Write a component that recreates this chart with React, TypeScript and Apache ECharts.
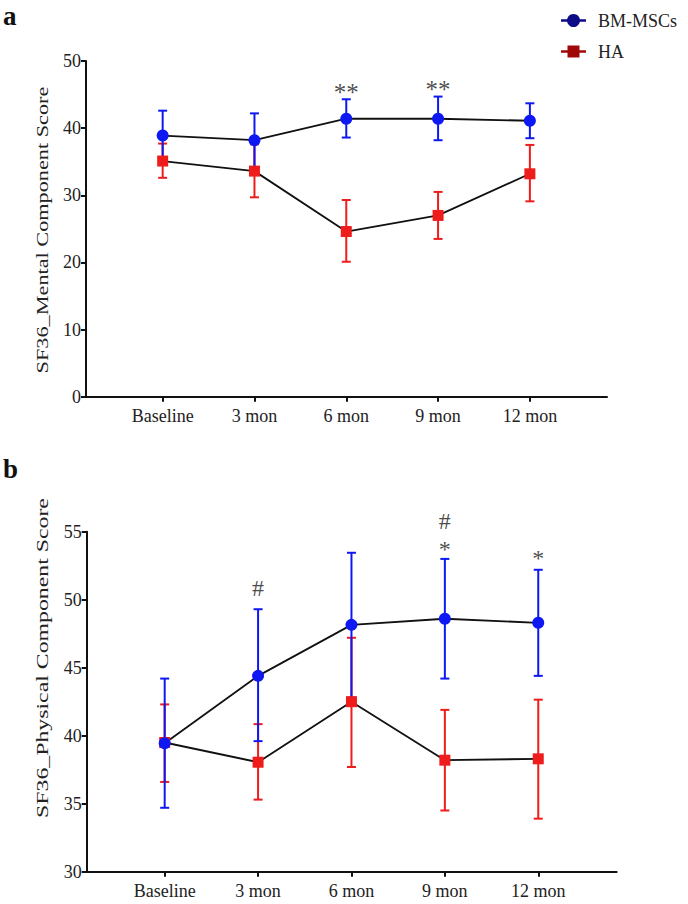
import React, { useEffect, useRef } from "react";
import * as echarts from "echarts";

const categories = ["Baseline", "3 mon", "6 mon", "9 mon", "12 mon"];

// Panel a: SF36 Mental Component Score
const mcsBmMean = [38.9, 38.2, 41.4, 41.4, 41.1];
const mcsBmUpper = [42.6, 42.2, 44.3, 44.7, 43.7];
const mcsBmLower = [35.2, 34.2, 38.6, 38.2, 38.5];
const mcsHaMean = [35.1, 33.6, 24.6, 27.0, 33.2];
const mcsHaUpper = [37.7, 37.6, 29.3, 30.5, 37.5];
const mcsHaLower = [32.6, 29.7, 20.1, 23.5, 29.1];
const mcsAnnotations: [number, number, string][] = [
  [2, 45.25, "**"],
  [3, 45.7, "**"],
];

// Panel b: SF36 Physical Component Score
const pcsBmMean = [39.45, 44.4, 48.15, 48.6, 48.3];
const pcsBmUpper = [44.2, 49.3, 53.45, 53.0, 52.2];
const pcsBmLower = [34.7, 39.6, 42.8, 44.2, 44.4];
const pcsHaMean = [39.5, 38.05, 42.5, 38.2, 38.3];
const pcsHaUpper = [42.3, 40.85, 47.2, 41.9, 42.65];
const pcsHaLower = [36.6, 35.3, 37.7, 34.5, 33.9];
const pcsAnnotations: [number, number, string][] = [
  [1, 50.88, "#"],
  [3, 55.79, "#"],
  [3, 53.7, "*"],
  [4, 53.1, "*"],
];

const FONT = "'Liberation Serif', 'Times New Roman', Times, serif";
const BLUE = "#0d18f2";
const RED = "#ef1c1c";
const TEXT = "#222222";

function errData(mean: number[], lo: number[], hi: number[]) {
  return mean.map((m, i) => [i, m, lo[i], hi[i]]);
}

function errorSeries(idx: number, data: number[][], color: string) {
  return {
    type: "custom",
    xAxisIndex: idx,
    yAxisIndex: idx,
    z: 2,
    silent: true,
    encode: { x: 0, y: [2, 3] },
    data,
    renderItem: (params: any, api: any) => {
      const x = api.value(0);
      const pLo = api.coord([x, api.value(2)]);
      const pHi = api.coord([x, api.value(3)]);
      const w = 4.5;
      const style = { stroke: color, lineWidth: 2 };
      return {
        type: "group",
        children: [
          { type: "line", shape: { x1: pLo[0], y1: pLo[1], x2: pHi[0], y2: pHi[1] }, style },
          { type: "line", shape: { x1: pHi[0] - w, y1: pHi[1], x2: pHi[0] + w, y2: pHi[1] }, style },
          { type: "line", shape: { x1: pLo[0] - w, y1: pLo[1], x2: pLo[0] + w, y2: pLo[1] }, style },
        ],
      };
    },
  };
}

function lineSeries(idx: number, name: string, mean: number[], color: string, symbol: string, size: number) {
  return {
    type: "line",
    name,
    xAxisIndex: idx,
    yAxisIndex: idx,
    z: 4,
    data: mean.map((m, i) => [i, m]),
    symbol,
    symbolSize: size,
    lineStyle: { color: "#111", width: 1.8 },
    itemStyle: { color },
  };
}

function annotSeries(idx: number, data: [number, number, string][], size: number) {
  return {
    type: "scatter",
    xAxisIndex: idx,
    yAxisIndex: idx,
    clip: false,
    silent: true,
    z: 5,
    symbolSize: 0,
    data,
    label: {
      show: true,
      position: "inside",
      formatter: (p: any) => p.data[2],
      fontFamily: FONT,
      fontSize: size,
      color: "#1a1a1a",
    },
  };
}

function xAxis(idx: number) {
  return {
    type: "value",
    gridIndex: idx,
    min: -0.835,
    max: 4.84,
    splitLine: { show: false },
    axisLine: { show: true, onZero: false, lineStyle: { color: "#111", width: 2 } },
    axisTick: { show: true, customValues: [0, 1, 2, 3, 4], length: 5, lineStyle: { color: "#111", width: 2 } },
    axisLabel: {
      customValues: [0, 1, 2, 3, 4],
      formatter: (v: number) => categories[Math.round(v)],
      fontFamily: FONT,
      fontSize: 18,
      color: TEXT,
      margin: 10,
    },
  };
}

function yAxis(idx: number, min: number, max: number, interval: number) {
  return {
    type: "value",
    gridIndex: idx,
    min,
    max,
    interval,
    splitLine: { show: false },
    axisLine: { show: true, onZero: false, lineStyle: { color: "#111", width: 2 } },
    axisTick: { show: true, length: 5, lineStyle: { color: "#111", width: 2 } },
    axisLabel: { fontFamily: FONT, fontSize: 18, color: TEXT, margin: 5 },
  };
}

function yTitle(text: string, x: number, y: number, stretch: number) {
  return {
    type: "text",
    x,
    y,
    rotation: Math.PI / 2,
    scaleX: stretch,
    scaleY: 1,
    style: { text, fontFamily: FONT, fontSize: 17, fill: TEXT, align: "center", verticalAlign: "middle" },
  };
}

export default function App() {
  const ref = useRef<HTMLDivElement>(null);
  useEffect(() => {
    if (!ref.current) return;
    const chart = echarts.init(ref.current, null, { renderer: "svg" });
    chart.setOption({
      animation: false,
      backgroundColor: "#ffffff",
      textStyle: { fontFamily: FONT },
      grid: [
        { left: 86, right: 81, top: 61, height: 335.7 },
        { left: 86.7, right: 71.3, top: 531.7, height: 340 },
      ],
      xAxis: [xAxis(0), xAxis(1)],
      yAxis: [yAxis(0, 0, 50, 10), yAxis(1, 30, 55, 5)],
      series: [
        errorSeries(0, errData(mcsHaMean, mcsHaLower, mcsHaUpper), RED),
        errorSeries(0, errData(mcsBmMean, mcsBmLower, mcsBmUpper), BLUE),
        lineSeries(0, "HA", mcsHaMean, RED, "rect", 11),
        lineSeries(0, "BM-MSCs", mcsBmMean, BLUE, "circle", 12),
        annotSeries(0, mcsAnnotations, 25),
        errorSeries(1, errData(pcsHaMean, pcsHaLower, pcsHaUpper), RED),
        errorSeries(1, errData(pcsBmMean, pcsBmLower, pcsBmUpper), BLUE),
        lineSeries(1, "HA", pcsHaMean, RED, "rect", 11),
        lineSeries(1, "BM-MSCs", pcsBmMean, BLUE, "circle", 12),
        annotSeries(1, pcsAnnotations, 24),
      ],
      graphic: [
        yTitle("SF36_Mental Component Score", 42, 230, 1.31),
        yTitle("SF36_Physical Component Score", 42, 658, 1.4),
        { type: "text", left: 3, top: 2, style: { text: "a", fontFamily: FONT, fontWeight: "bold", fontSize: 27, fill: "#111" } },
        { type: "text", left: 3, top: 455, style: { text: "b", fontFamily: FONT, fontWeight: "bold", fontSize: 27, fill: "#111" } },
        { type: "line", shape: { x1: 561, y1: 20.5, x2: 586, y2: 20.5 }, style: { stroke: "#0c0c86", lineWidth: 2.5 } },
        { type: "circle", shape: { cx: 573.5, cy: 20.5, r: 6.5 }, style: { fill: "#0c0c86" } },
        { type: "text", x: 598, y: 20.5, style: { text: "BM-MSCs", fontFamily: FONT, fontSize: 18, fill: TEXT, verticalAlign: "middle" } },
        { type: "line", shape: { x1: 561, y1: 51.5, x2: 586, y2: 51.5 }, style: { stroke: "#a00808", lineWidth: 2.5 } },
        { type: "rect", shape: { x: 567.5, y: 45.5, width: 12, height: 12 }, style: { fill: "#a00808" } },
        { type: "text", x: 598, y: 51.5, style: { text: "HA", fontFamily: FONT, fontSize: 18, fill: TEXT, verticalAlign: "middle" } },
      ],
    });
    return () => chart.dispose();
  }, []);
  return <div ref={ref} style={{ position: "fixed", left: 0, top: 0, width: 688, height: 904 }} />;
}
